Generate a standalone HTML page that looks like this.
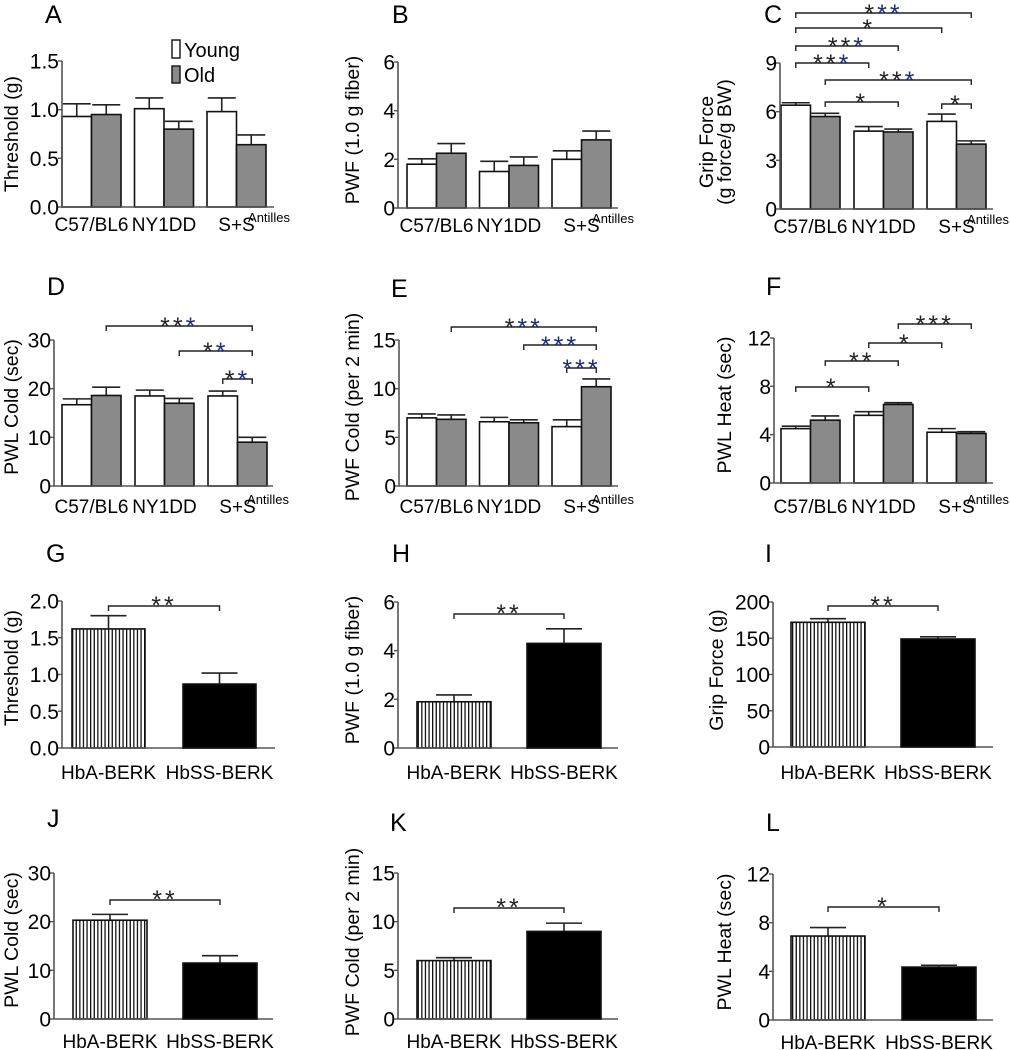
<!DOCTYPE html>
<html><head><meta charset="utf-8"><style>
html,body{margin:0;padding:0;background:#fff;}
svg{display:block;font-family:"Liberation Sans",Arial,sans-serif;}
</style></head><body>
<svg id="fig" width="1011" height="1050" viewBox="0 0 1011 1050">
<defs>
<pattern id="stripes" width="3.6" height="10" patternUnits="userSpaceOnUse">
<rect x="0" y="0" width="3.6" height="10" fill="#fff"/>
<rect x="0" y="0" width="1.3" height="10" fill="#111"/>
</pattern>
</defs>
</svg>
<script>
// ---- data ----
const groupCats = ["C57/BL6", "NY1DD", "S+S"];
const berkCats = ["HbA-BERK", "HbSS-BERK"];
const aYoung = [0.93, 1.01, 0.98], aYoungErr = [0.13, 0.11, 0.14];
const aOld = [0.95, 0.80, 0.64], aOldErr = [0.10, 0.08, 0.10];
const bYoung = [1.8, 1.5, 2.0], bYoungErr = [0.22, 0.42, 0.35];
const bOld = [2.25, 1.75, 2.8], bOldErr = [0.4, 0.35, 0.36];
const cYoung = [6.4, 4.8, 5.4], cYoungErr = [0.15, 0.28, 0.45];
const cOld = [5.7, 4.75, 4.0], cOldErr = [0.2, 0.18, 0.2];
const dYoung = [16.7, 18.5, 18.5], dYoungErr = [1.2, 1.2, 1.0];
const dOld = [18.6, 17.0, 9.0], dOldErr = [1.7, 1.0, 1.0];
const eYoung = [7.0, 6.6, 6.1], eYoungErr = [0.4, 0.45, 0.7];
const eOld = [6.85, 6.5, 10.2], eOldErr = [0.45, 0.3, 0.8];
const fYoung = [4.5, 5.6, 4.2], fYoungErr = [0.2, 0.3, 0.3];
const fOld = [5.2, 6.5, 4.1], fOldErr = [0.35, 0.15, 0.15];
const gVals = [1.62, 0.87], gErr = [0.18, 0.15];
const hVals = [1.9, 4.3], hErr = [0.28, 0.6];
const iVals = [172, 149], iErr = [5, 3];
const jVals = [20.3, 11.5], jErr = [1.2, 1.5];
const kVals = [6.0, 9.0], kErr = [0.3, 0.85];
const lVals = [6.9, 4.35], lErr = [0.7, 0.15];
const aTicks = ["0.0","0.5","1.0","1.5"];
const bTicks = ["0","2","4","6"];
const cTicks = ["0","3","6","9"];
const dTicks = ["0","10","20","30"];
const eTicks = ["0","5","10","15"];
const fTicks = ["0","4","8","12"];
const gTicks = ["0.0","0.5","1.0","1.5","2.0"];
const hTicks = ["0","2","4","6"];
const iTicks = ["0","50","100","150","200"];
const jTicks = ["0","10","20","30"];
const kTicks = ["0","5","10","15"];
const lTicks = ["0","4","8","12"];

const NS = "http://www.w3.org/2000/svg";
const svg = document.getElementById("fig");
const BLUE = "#1c2a78";
const TICKFS = 21, CATFS = 19, TITLEFS = 19.5, STARFS = 25;
function mk(tag, attrs, parent) {
  const el = document.createElementNS(NS, tag);
  for (const k in attrs) el.setAttribute(k, attrs[k]);
  (parent || svg).appendChild(el);
  return el;
}

function panel(cfg) {
  const g = mk("g", {});
  
  
  const tmax = parseFloat(cfg.ticks[cfg.ticks.length - 1]);
  const y = v => cfg.base - (v / tmax) * (cfg.base - cfg.top);
  const lt = mk("text", {x: cfg.lx, y: cfg.ly, "font-size": 25, fill: "#000"}, g);
  lt.textContent = cfg.id;
  
  
  cfg.ytitle.forEach((ln, i) => {
    const tx = cfg.tx + i * 18;
    const t = mk("text", {x: tx, y: cfg.ty, "font-size": TITLEFS, "text-anchor": "middle", "dominant-baseline": "central", transform: `rotate(-90 ${tx} ${cfg.ty})`}, g);
    t.textContent = ln;
    
    
  });
  const bars = [];
  cfg.series.forEach((s, si) => {
    s.vals.forEach((v, gi) => {
      const x0 = cfg.x0 + gi * cfg.gs + si * cfg.bw;
      bars[gi * cfg.series.length + si] = x0 + cfg.bw / 2;
      const top = y(v), et = y(v + s.err[gi]);
      const cx = x0 + cfg.bw / 2;
      const eb = mk("path", {d: `M${cx},${top} V${et} M${cx - cfg.cap},${et} H${cx + cfg.cap}`, stroke: "#222", "stroke-width": 1.6, fill: "none"}, g);
      
      
      const r = mk("rect", {x: x0, y: top, width: cfg.bw, height: cfg.base - top, fill: s.fill, stroke: "#111", "stroke-width": 1.6}, g);
      
      
    });
  });
  const ax = mk("path", {d: `M${cfg.ax},${cfg.top} V${cfg.base} H${cfg.end}`, stroke: "#555", "stroke-width": 1.6, fill: "none"}, g);
  
  
  cfg.ticks.forEach(tl => {
    const yy = y(parseFloat(tl));
    const tk = mk("line", {x1: cfg.ax - 4, x2: cfg.ax, y1: yy, y2: yy, stroke: "#555", "stroke-width": 1.4}, g);
    
    
    const t = mk("text", {x: cfg.ax - 3, y: yy + 7.5, "font-size": TICKFS, "text-anchor": "end"}, g);
    t.textContent = tl;
    
    
  });
  cfg.cats.forEach((c, i) => {
    const cx = cfg.x0 + i * cfg.gs + cfg.series.length * cfg.bw / 2 + (cfg.catdx || 0);
    const t = mk("text", {x: cx, y: cfg.base + cfg.cy, "font-size": CATFS, "text-anchor": "middle"}, g);
    t.textContent = c;
    
    
  });
  if (cfg.antilles) {
    const t = mk("text", {x: cfg.end - 5, y: cfg.base + cfg.cy - 9, "font-size": 13, "text-anchor": "middle"}, g);
    t.textContent = "Antilles";
    
    
  }
  (cfg.brackets || []).forEach(b => {
    const x1 = bars[b.from], x2 = bars[b.to];
    const p = mk("path", {d: `M${x1},${b.y + 5} V${b.y} H${x2} V${b.y + 5}`, stroke: "#222", "stroke-width": 1.4, fill: "none"}, g);
    
    
    const t = mk("text", {x: (x1 + x2) / 2, y: b.y + 9, "font-size": STARFS, "text-anchor": "middle", "letter-spacing": 3}, g);
    
    
    for (const ch of b.c) {
      const ts = mk("tspan", {fill: ch === "b" ? BLUE : "#222"}, t);
      ts.textContent = "*";
    }
  });
}

const GRAY = "#8a8a8a";
function grouped(id, yv, ye, ov, oe) {
  return [{name: "young", vals: yv, err: ye, fill: "#fff"}, {name: "old", vals: ov, err: oe, fill: GRAY}];
}

function panel2(cfg, v, e) {
  cfg.series = [{name: "hba", vals: [v[0]], err: [e[0]], fill: "url(#stripes)"}];
  const gs = cfg.gs;
  cfg.gs = 0;
  cfg.cats = [];
  cfg.cap = 18;
  const brackets = cfg.brackets; cfg.brackets = [];
  panel(cfg);
  const tmax = parseFloat(cfg.ticks[cfg.ticks.length - 1]);
  const y = val => cfg.base - (val / tmax) * (cfg.base - cfg.top);
  const g = svg.lastChild;
  const x1 = cfg.x0 + gs;
  const cx = x1 + cfg.bw / 2;
  const top = y(v[1]), et = y(v[1] + e[1]);
  const eb = mk("path", {d: `M${cx},${top} V${et} M${cx - 18},${et} H${cx + 18}`, stroke: "#222", "stroke-width": 1.6, fill: "none"}, g);
  
  
  const r = mk("rect", {x: x1, y: top, width: cfg.bw, height: cfg.base - top, fill: "#000", stroke: "#111", "stroke-width": 1.6}, g);
  
  
  berkCats.forEach((c, i) => {
    const t = mk("text", {x: cfg.x0 + i * gs + cfg.bw / 2, y: cfg.base + cfg.cy, "font-size": 19, "text-anchor": "middle"}, g);
    t.textContent = c;
    
    
  });
  const c0 = cfg.x0 + cfg.bw / 2;
  const p = mk("path", {d: `M${c0},${brackets.y + 5} V${brackets.y} H${cx} V${brackets.y + 5}`, stroke: "#222", "stroke-width": 1.4, fill: "none"}, g);
  
  
  const t = mk("text", {x: (c0 + cx) / 2, y: brackets.y + 8, "font-size": STARFS, "text-anchor": "middle", "letter-spacing": 3, fill: "#222"}, g);
  t.textContent = brackets.c;
  
  
}

panel({id: "A", lx: 45, ly: 23, ytitle: ["Threshold (g)"], tx: 12, ty: 134, ax: 62, top: 61, base: 207, end: 274,
  x0: 62, gs: 72.5, bw: 29.5, cap: 14, ticks: aTicks, cats: groupCats, cy: 24, antilles: true,
  series: grouped("a", aYoung, aYoungErr, aOld, aOldErr)});
panel({id: "B", lx: 392, ly: 23, ytitle: ["PWF (1.0 g fiber)"], tx: 353, ty: 130, ax: 398, top: 62, base: 208, end: 618,
  x0: 407, gs: 72.5, bw: 29.5, cap: 14, ticks: bTicks, cats: groupCats, cy: 24, antilles: true,
  series: grouped("b", bYoung, bYoungErr, bOld, bOldErr)});
panel({id: "C", lx: 764, ly: 23, ytitle: ["Grip Force", "(g force/g BW)"], tx: 707, ty: 142, ax: 780, top: 63, base: 209, end: 993,
  x0: 781, gs: 73, bw: 29.5, cap: 14, ticks: cTicks, cats: groupCats, cy: 24, antilles: true,
  series: grouped("c", cYoung, cYoungErr, cOld, cOldErr),
  brackets: [
    {from: 0, to: 5, y: 13, c: "kbb"},
    {from: 0, to: 4, y: 28, c: "k"},
    {from: 0, to: 3, y: 46, c: "kkb"},
    {from: 0, to: 2, y: 63, c: "kkb"},
    {from: 1, to: 5, y: 80, c: "kkb"},
    {from: 1, to: 3, y: 102, c: "k"},
    {from: 4, to: 5, y: 104, c: "k"}]});
panel({id: "D", lx: 47, ly: 295, ytitle: ["PWL Cold (sec)"], tx: 12, ty: 407, ax: 54, top: 340, base: 486, end: 273,
  x0: 62, gs: 73, bw: 29.5, cap: 14, ticks: dTicks, cats: groupCats, cy: 27, antilles: true,
  series: grouped("d", dYoung, dYoungErr, dOld, dOldErr),
  brackets: [
    {from: 1, to: 5, y: 326, c: "kkb"},
    {from: 3, to: 5, y: 351, c: "kb"},
    {from: 4, to: 5, y: 379, c: "kb"}]});
panel({id: "E", lx: 391, ly: 297, ytitle: ["PWF Cold (per 2 min)"], tx: 353, ty: 407, ax: 399, top: 340, base: 486, end: 618,
  x0: 407, gs: 72.5, bw: 29.5, cap: 14, ticks: eTicks, cats: groupCats, cy: 27, antilles: true,
  series: grouped("e", eYoung, eYoungErr, eOld, eOldErr),
  brackets: [
    {from: 1, to: 5, y: 327, c: "kbb"},
    {from: 3, to: 5, y: 345, c: "bbb"},
    {from: 4, to: 5, y: 368, c: "bbb"}]});
panel({id: "F", lx: 766, ly: 295, ytitle: ["PWL Heat (sec)"], tx: 725, ty: 405, ax: 774, top: 338, base: 483, end: 993,
  x0: 781, gs: 73, bw: 29.5, cap: 14, ticks: fTicks, cats: groupCats, cy: 30, antilles: true,
  series: grouped("f", fYoung, fYoungErr, fOld, fOldErr),
  brackets: [
    {from: 0, to: 2, y: 387, c: "k"},
    {from: 1, to: 3, y: 361, c: "kk"},
    {from: 2, to: 4, y: 343, c: "k"},
    {from: 3, to: 5, y: 324, c: "kkk"}]});

panel2({id: "G", lx: 46, ly: 562, ytitle: ["Threshold (g)"], tx: 12, ty: 668, ax: 62, top: 601, base: 748, end: 275,
  x0: 72, gs: 111, bw: 73, ticks: gTicks, cy: 31, brackets: {y: 606, c: "**"}}, gVals, gErr);
panel2({id: "H", lx: 392, ly: 562, ytitle: ["PWF (1.0 g fiber)"], tx: 353, ty: 670, ax: 398, top: 602, base: 748, end: 618,
  x0: 417, gs: 110, bw: 74, ticks: hTicks, cy: 31, brackets: {y: 614, c: "**"}}, hVals, hErr);
panel2({id: "I", lx: 765, ly: 562, ytitle: ["Grip Force (g)"], tx: 717, ty: 670, ax: 773, top: 602, base: 747, end: 993,
  x0: 791, gs: 110, bw: 74, ticks: iTicks, cy: 32, brackets: {y: 606, c: "**"}}, iVals, iErr);
panel2({id: "J", lx: 47, ly: 827, ytitle: ["PWL Cold (sec)"], tx: 12, ty: 940, ax: 54, top: 873, base: 1019, end: 273,
  x0: 73, gs: 110, bw: 74, ticks: jTicks, cy: 29, brackets: {y: 900, c: "**"}}, jVals, jErr);
panel2({id: "K", lx: 390, ly: 831, ytitle: ["PWF Cold (per 2 min)"], tx: 353, ty: 942, ax: 398, top: 873, base: 1019, end: 618,
  x0: 417, gs: 110, bw: 74, ticks: kTicks, cy: 29, brackets: {y: 908, c: "**"}}, kVals, kErr);
panel2({id: "L", lx: 766, ly: 831, ytitle: ["PWL Heat (sec)"], tx: 725, ty: 942, ax: 773, top: 874, base: 1020, end: 993,
  x0: 791, gs: 111, bw: 74, ticks: lTicks, cy: 29, brackets: {y: 907, c: "*"}}, lVals, lErr);

const lg = mk("g", {});


const lb1 = mk("rect", {x: 172, y: 40, width: 8, height: 18, fill: "#fff", stroke: "#111", "stroke-width": 1.4}, lg);


const lt1 = mk("text", {x: 184, y: 57, "font-size": 20}, lg);
lt1.textContent = "Young";


const lb2 = mk("rect", {x: 172, y: 66, width: 8, height: 17, fill: GRAY, stroke: "#111", "stroke-width": 1.4}, lg);


const lt2 = mk("text", {x: 184, y: 82, "font-size": 20}, lg);
lt2.textContent = "Old";


</script>
</body></html>
